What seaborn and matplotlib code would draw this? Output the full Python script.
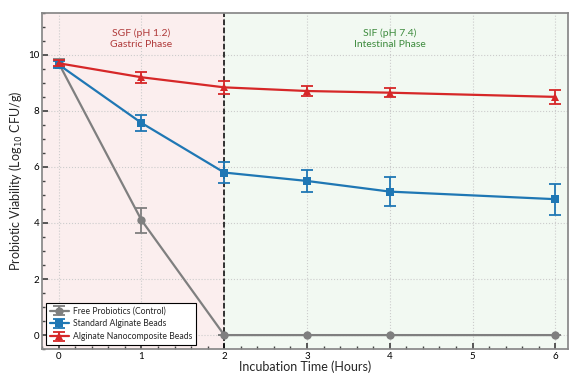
import numpy as np
import pandas as pd
import matplotlib
matplotlib.use("Agg")
import matplotlib.pyplot as plt
from matplotlib.ticker import AutoMinorLocator
import seaborn as sns

# data
time_h = [0, 1, 2, 3, 4, 6]
free_mean = [9.7, 4.1, 0.0, 0.0, 0.0, 0.0]
free_err = [0.15, 0.45, 0.0, 0.0, 0.0, 0.0]
std_mean = [9.65, 7.57, 5.8, 5.5, 5.12, 4.85]
std_err = [0.12, 0.29, 0.36, 0.40, 0.51, 0.55]
nano_mean = [9.7, 9.2, 8.84, 8.71, 8.65, 8.5]
nano_err = [0.1, 0.2, 0.22, 0.19, 0.15, 0.25]
series = ["Free Probiotics (Control)", "Standard Alginate Beads", "Alginate Nanocomposite Beads"]

df = pd.DataFrame({
    "time": time_h * 3,
    "viability": free_mean + std_mean + nano_mean,
    "err": free_err + std_err + nano_err,
    "group": [s for s in series for _ in time_h],
})

sns.set_theme(style="ticks")
plt.rcParams["font.family"] = ["Lato", "DejaVu Sans"]

colors = {series[0]: "#7f7f7f", series[1]: "#1f77b4", series[2]: "#d62728"}
markers = {series[0]: "o", series[1]: "s", series[2]: "^"}

fig = plt.figure(figsize=(5.7, 3.77), dpi=100)
ax = fig.add_axes([0.074, 0.074, 0.922, 0.892])

# phase shading
ax.axvspan(-0.2, 2, color="#d62728", alpha=0.08, lw=0, zorder=0)
ax.axvspan(2, 6.15, color="#2ca02c", alpha=0.06, lw=0, zorder=0)
ax.axvline(2, color="black", ls="--", lw=1.1, zorder=1)

sns.lineplot(data=df, x="time", y="viability", hue="group", style="group",
             palette=colors, markers=markers, dashes=False, markersize=6,
             markeredgewidth=0, linewidth=1.6, legend=False, ax=ax, zorder=3)

handles = []
for s, line in zip(series, ax.get_lines()[-3:]):
    sub = df[df["group"] == s]
    eb = ax.errorbar(sub["time"], sub["viability"], yerr=sub["err"], fmt="none",
                     ecolor=colors[s], elinewidth=1.3, capsize=4, capthick=1.3, zorder=4)
    handles.append((line, eb))

ax.text(1, 10.57, "SGF (pH 1.2)\nGastric Phase", ha="center", va="center",
        color="#b03a3a", fontsize=7.5, linespacing=1.3)
ax.text(4, 10.57, "SIF (pH 7.4)\nIntestinal Phase", ha="center", va="center",
        color="#3d8b3d", fontsize=7.5, linespacing=1.3)

ax.set_xlim(-0.2, 6.15)
ax.set_ylim(-0.5, 11.5)
ax.set_xticks(range(0, 7))
ax.set_yticks([0, 2, 4, 6, 8, 10])
ax.xaxis.set_minor_locator(AutoMinorLocator(5))
ax.yaxis.set_minor_locator(AutoMinorLocator(4))
ax.tick_params(which="both", direction="in", labelsize=7, colors="#444444", labelcolor="black", pad=2)
ax.tick_params(which="major", length=4)
ax.tick_params(which="minor", length=2)
ax.grid(True, ls=":", lw=0.8, color="#cccccc", zorder=0)
for sp in ax.spines.values():
    sp.set_color("#888888")

ax.set_xlabel("Incubation Time (Hours)", fontsize=9, labelpad=0)
ax.set_ylabel("Probiotic Viability (Log$_{10}$ CFU/g)", fontsize=9, labelpad=2)

leg = ax.legend(handles, series, loc="lower left", fontsize=6.2, frameon=True,
                fancybox=False, edgecolor="black", framealpha=1,
                borderpad=0.4, handlelength=2.2, handletextpad=0.5, labelspacing=0.45)
leg.get_frame().set_linewidth(0.8)

fig.savefig("out.png", dpi=100)
